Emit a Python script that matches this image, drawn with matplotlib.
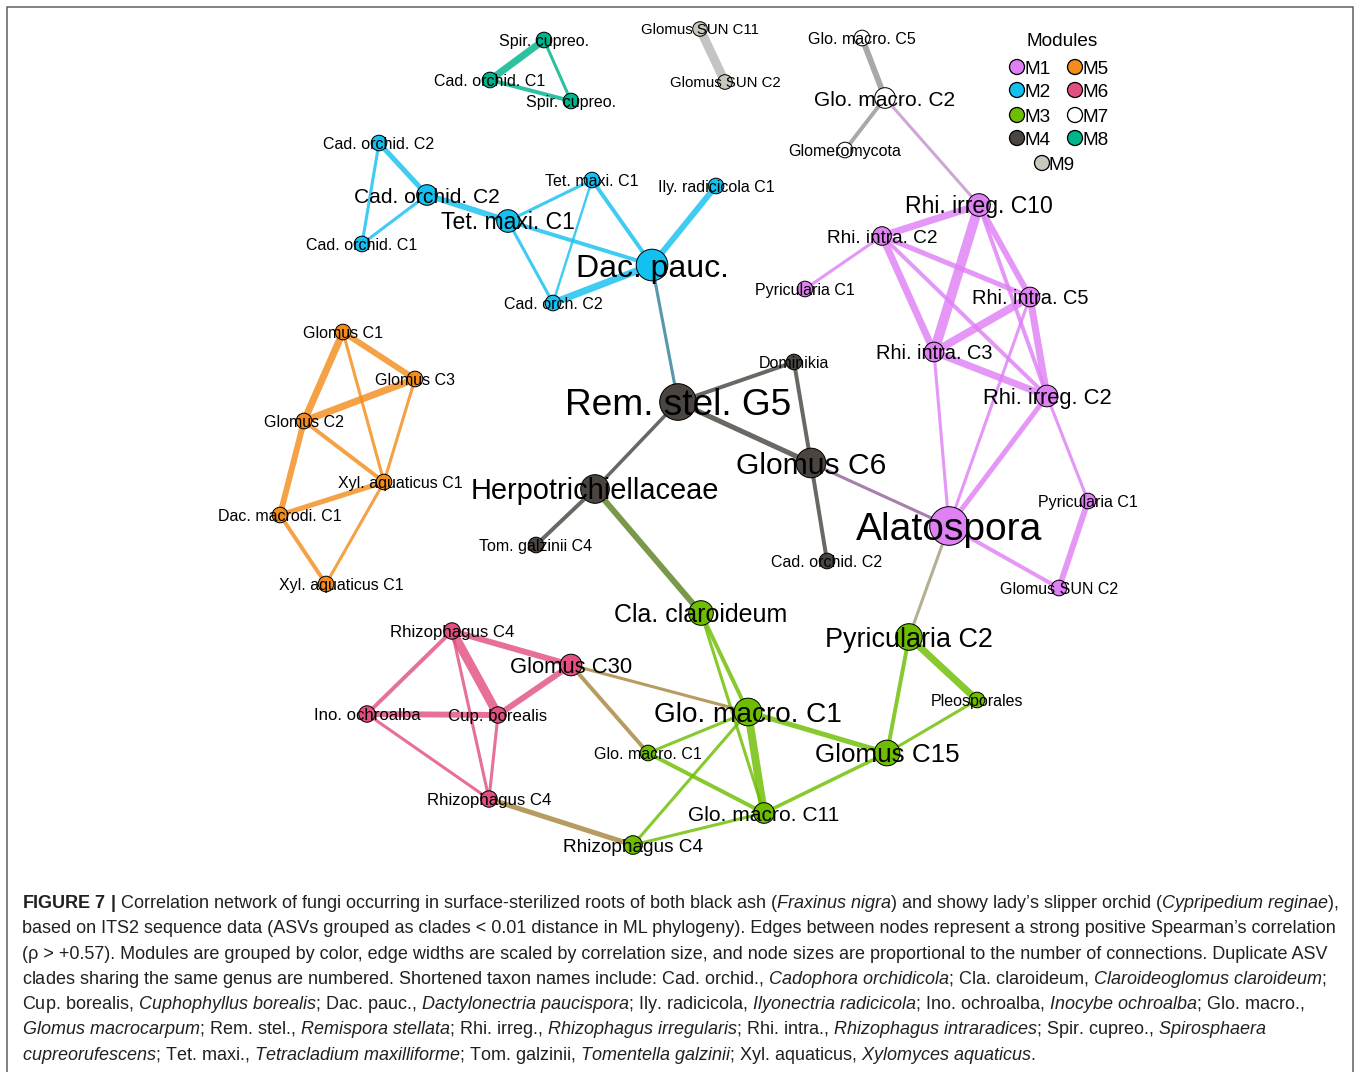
import matplotlib
matplotlib.use("Agg")
import matplotlib.pyplot as plt
from matplotlib.patches import Circle
from matplotlib.colors import to_rgb

W, H, DPI = 1357, 1072, 100
PT = 72.0 / DPI  # points per pixel

# ---------------- data ----------------
modules = ["M1", "M2", "M3", "M4", "M5", "M6", "M7", "M8", "M9"]
module_fill = ["#df80f5", "#14c0f0", "#6dbe00", "#4a4541", "#f38c1c",
               "#e2507f", "#ffffff", "#00b48c", "#c9c6bb"]

node_id = [
    "m8_spir1", "m8_cad1", "m8_spir2",
    "m9_sun11", "m9_sun2",
    "m7_glo5", "m7_glo2", "m7_glom",
    "m2_cad2a", "m2_cad2b", "m2_cad1", "m2_tet1a", "m2_tet1b", "m2_ily", "m2_dac", "m2_cadorch",
    "m5_glo1", "m5_glo3", "m5_glo2", "m5_xyl1a", "m5_dac", "m5_xyl1b",
    "m4_rem", "m4_dom", "m4_glo6", "m4_herp", "m4_tom", "m4_cad2",
    "m1_irr10", "m1_int2", "m1_pyr1a", "m1_int5", "m1_int3", "m1_irr2", "m1_pyr1b", "m1_alat", "m1_sun2",
    "m3_cla", "m3_glo1a", "m3_glo1b", "m3_pyr2", "m3_pleo", "m3_glo15", "m3_glo11", "m3_rhiz4",
    "m6_rhiz4a", "m6_glo30", "m6_ino", "m6_cup", "m6_rhiz4b",
]
node_label = [
    "Spir. cupreo.", "Cad. orchid. C1", "Spir. cupreo.",
    "Glomus SUN C11", "Glomus SUN C2",
    "Glo. macro. C5", "Glo. macro. C2", "Glomeromycota",
    "Cad. orchid. C2", "Cad. orchid. C2", "Cad. orchid. C1", "Tet. maxi. C1", "Tet. maxi. C1",
    "Ily. radicicola C1", "Dac. pauc.", "Cad. orch. C2",
    "Glomus C1", "Glomus C3", "Glomus C2", "Xyl. aquaticus C1", "Dac. macrodi. C1", "Xyl. aquaticus C1",
    "Rem. stel. G5", "Dominikia", "Glomus C6", "Herpotrichiellaceae", "Tom. galzinii C4", "Cad. orchid. C2",
    "Rhi. irreg. C10", "Rhi. intra. C2", "Pyricularia C1", "Rhi. intra. C5", "Rhi. intra. C3",
    "Rhi. irreg. C2", "Pyricularia C1", "Alatospora", "Glomus SUN C2",
    "Cla. claroideum", "Glo. macro. C1", "Glo. macro. C1", "Pyricularia C2", "Pleosporales",
    "Glomus C15", "Glo. macro. C11", "Rhizophagus C4",
    "Rhizophagus C4", "Glomus C30", "Ino. ochroalba", "Cup. borealis", "Rhizophagus C4",
]
node_module = [
    "M8", "M8", "M8",
    "M9", "M9",
    "M7", "M7", "M7",
    "M2", "M2", "M2", "M2", "M2", "M2", "M2", "M2",
    "M5", "M5", "M5", "M5", "M5", "M5",
    "M4", "M4", "M4", "M4", "M4", "M4",
    "M1", "M1", "M1", "M1", "M1", "M1", "M1", "M1", "M1",
    "M3", "M3", "M3", "M3", "M3", "M3", "M3", "M3",
    "M6", "M6", "M6", "M6", "M6",
]
node_size = [
    7, 7, 7,
    6.5, 6.5,
    7, 9.5, 7,
    7, 9.5, 7, 10.5, 7, 7, 15, 7,
    7, 7, 7, 7, 7, 7,
    17.5, 7, 14, 13.5, 7, 7,
    10.5, 8.5, 7, 9, 9, 10, 7, 18.5, 7,
    11.5, 13, 7, 12.5, 7, 12, 9.5, 8.5,
    7.4, 10, 7.4, 7.4, 7.4,
]

edge_src = [
    "m8_spir1", "m8_spir1", "m8_cad1",
    "m9_sun11",
    "m7_glo5", "m7_glo2",
    "m2_cad2a", "m2_cad2a", "m2_cad1", "m2_cad2b", "m2_tet1a", "m2_tet1a", "m2_tet1a",
    "m2_tet1b", "m2_tet1b", "m2_ily", "m2_cadorch", "m2_dac",
    "m5_glo1", "m5_glo1", "m5_glo1", "m5_glo3", "m5_glo3", "m5_glo2", "m5_glo2",
    "m5_dac", "m5_dac", "m5_xyl1a",
    "m4_rem", "m4_rem", "m4_rem", "m4_dom", "m4_glo6", "m4_herp", "m4_herp", "m4_glo6",
    "m1_irr10", "m1_irr10", "m1_irr10", "m1_irr10", "m1_int2", "m1_int2", "m1_int2", "m1_int2",
    "m1_int3", "m1_int3", "m1_int5", "m1_int3", "m1_int5", "m1_irr2", "m1_irr2", "m1_pyr1b",
    "m1_alat", "m7_glo2", "m1_alat",
    "m3_cla", "m3_cla", "m3_glo1a", "m3_glo1a", "m3_glo1a", "m3_glo1a", "m3_glo1b",
    "m3_glo11", "m3_glo11", "m3_pyr2", "m3_pyr2", "m3_pleo",
    "m6_rhiz4a", "m6_rhiz4a", "m6_rhiz4a", "m6_rhiz4a", "m6_ino", "m6_ino", "m6_cup", "m6_cup",
    "m6_glo30", "m6_glo30", "m6_rhiz4b",
]
edge_dst = [
    "m8_cad1", "m8_spir2", "m8_spir2",
    "m9_sun2",
    "m7_glo2", "m7_glom",
    "m2_cad2b", "m2_cad1", "m2_cad2b", "m2_tet1a", "m2_tet1b", "m2_dac", "m2_cadorch",
    "m2_dac", "m2_cadorch", "m2_dac", "m2_dac", "m4_rem",
    "m5_glo3", "m5_glo2", "m5_xyl1a", "m5_glo2", "m5_xyl1a", "m5_xyl1a", "m5_dac",
    "m5_xyl1a", "m5_xyl1b", "m5_xyl1b",
    "m4_dom", "m4_glo6", "m4_herp", "m4_glo6", "m4_cad2", "m4_tom", "m3_cla", "m1_alat",
    "m1_int2", "m1_int3", "m1_int5", "m1_irr2", "m1_int3", "m1_int5", "m1_irr2", "m1_pyr1a",
    "m1_int5", "m1_irr2", "m1_irr2", "m1_alat", "m1_alat", "m1_alat", "m1_pyr1b", "m1_sun2",
    "m1_sun2", "m1_irr10", "m3_pyr2",
    "m3_glo1a", "m3_glo11", "m3_glo11", "m3_glo1b", "m3_rhiz4", "m3_glo15", "m3_glo11",
    "m3_rhiz4", "m3_glo15", "m3_glo15", "m3_pleo", "m3_glo15",
    "m6_glo30", "m6_cup", "m6_ino", "m6_rhiz4b", "m6_cup", "m6_rhiz4b", "m6_glo30", "m6_rhiz4b",
    "m3_glo1a", "m3_glo1b", "m3_rhiz4",
]
edge_rho = [
    0.82, 0.64, 0.68,
    0.91,
    0.77, 0.68,
    0.73, 0.64, 0.64, 0.77, 0.64, 0.68, 0.64,
    0.68, 0.61, 0.77, 0.82, 0.64,
    0.77, 0.82, 0.64, 0.82, 0.64, 0.68, 0.77,
    0.73, 0.68, 0.64,
    0.68, 0.73, 0.66, 0.68, 0.68, 0.68, 0.77, 0.64,
    0.82, 0.95, 0.77, 0.68, 0.82, 0.73, 0.68, 0.64,
    0.86, 0.82, 0.82, 0.64, 0.64, 0.73, 0.64, 0.77,
    0.68, 0.64, 0.64,
    0.68, 0.64, 0.86, 0.64, 0.64, 0.73, 0.68,
    0.64, 0.66, 0.68, 0.82, 0.64,
    0.77, 0.91, 0.68, 0.64, 0.77, 0.64, 0.77, 0.64,
    0.64, 0.68, 0.73,
]

# ---------------- layout (pixel coordinates) ----------------
layout = {
    "m8_spir1": (544, 40), "m8_cad1": (490, 80), "m8_spir2": (571, 101),
    "m9_sun11": (700, 29), "m9_sun2": (725, 82),
    "m7_glo5": (862, 38), "m7_glo2": (885, 98), "m7_glom": (845, 150),
    "m2_cad2a": (379, 143), "m2_cad2b": (427, 195), "m2_cad1": (362, 244),
    "m2_tet1a": (508, 221), "m2_tet1b": (592, 180), "m2_ily": (716, 186),
    "m2_dac": (652, 265), "m2_cadorch": (553, 303),
    "m5_glo1": (343, 332), "m5_glo3": (415, 379), "m5_glo2": (304, 421),
    "m5_xyl1a": (384, 482), "m5_dac": (280, 515), "m5_xyl1b": (326, 584),
    "m4_rem": (678, 402), "m4_dom": (794, 362), "m4_glo6": (811, 463),
    "m4_herp": (595, 489), "m4_tom": (536, 545), "m4_cad2": (827, 561),
    "m1_irr10": (979, 205), "m1_int2": (882, 236), "m1_pyr1a": (805, 289),
    "m1_int5": (1030, 297), "m1_int3": (934, 352), "m1_irr2": (1047, 396),
    "m1_pyr1b": (1088, 501), "m1_alat": (949, 526), "m1_sun2": (1059, 588),
    "m3_cla": (701, 613), "m3_glo1a": (748, 712), "m3_glo1b": (648, 753),
    "m3_pyr2": (909, 637), "m3_pleo": (977, 700), "m3_glo15": (887, 753),
    "m3_glo11": (764, 813), "m3_rhiz4": (633, 845),
    "m6_rhiz4a": (452, 631), "m6_glo30": (571, 665), "m6_ino": (367, 714),
    "m6_cup": (498, 715), "m6_rhiz4b": (489, 799),
}
label_shift = {"m5_xyl1a": 16, "m5_xyl1b": 15}

# ---------------- styling helpers ----------------
FONT = "Liberation Sans"
plt.rcParams["font.family"] = [FONT, "DejaVu Sans"]
plt.rcParams["mathtext.fontset"] = "custom"
plt.rcParams["mathtext.rm"] = FONT
plt.rcParams["mathtext.it"] = FONT + ":italic"
plt.rcParams["mathtext.bf"] = FONT + ":bold"

fill = dict(zip(modules, module_fill))
edge_base = {m: to_rgb(c) for m, c in fill.items()}
edge_base["M7"] = to_rgb("#a9a9a9")
edge_base["M9"] = to_rgb("#c4c4c4")
EDGE_ALPHA = 0.82

mod_of = dict(zip(node_id, node_module))
size_of = dict(zip(node_id, node_size))


def edge_colour(a, b):
    ca, cb = edge_base[mod_of[a]], edge_base[mod_of[b]]
    mix = [(x + y) / 2 for x, y in zip(ca, cb)]
    if mod_of[a] in ("M7", "M9") and mod_of[a] == mod_of[b]:
        return mix, 1.0
    return mix, EDGE_ALPHA


def rho_to_px(r):
    return max(1.5, (r - 0.5) * 22)


fig = plt.figure(figsize=(W / DPI, H / DPI), dpi=DPI)
ax = fig.add_axes([0, 0, 1, 1])
ax.set_xlim(0, W)
ax.set_ylim(H, 0)
ax.axis("off")

# frame around the panel
ax.plot([7, 7, 1353, 1353], [H + 5, 7, 7, H + 5], color="#5c5c5c",
        lw=1.5 * PT, solid_joinstyle="miter", zorder=0)

# edges
for s, d, r in zip(edge_src, edge_dst, edge_rho):
    (x0, y0), (x1, y1) = layout[s], layout[d]
    col, al = edge_colour(s, d)
    ax.plot([x0, x1], [y0, y1], color=col, alpha=al, lw=rho_to_px(r) * PT,
            solid_capstyle="butt", zorder=1)

# nodes
for nid, lab, mod, v in zip(node_id, node_label, node_module, node_size):
    x, y = layout[nid]
    ax.add_patch(Circle((x, y), radius=v + 0.8, facecolor=fill[mod],
                        edgecolor="black", lw=1.0 * PT, zorder=2))

# labels (drawn over the nodes)
for nid, lab, v in zip(node_id, node_label, node_size):
    x, y = layout[nid]
    fpx = 2 * v + 2
    ax.text(x + label_shift.get(nid, 0), y + 0.36 * fpx, lab, fontsize=fpx * PT,
            ha="center", va="baseline", color="black", zorder=3)

# legend
ax.text(1062, 39 + 0.36 * 19, "Modules", fontsize=19 * PT, ha="center",
        va="baseline", color="black")
leg_pos = {"M1": (1017, 67), "M2": (1017, 90), "M3": (1017, 115), "M4": (1017, 138),
           "M5": (1075, 67), "M6": (1075, 90), "M7": (1075, 115), "M8": (1075, 138),
           "M9": (1042, 163)}
for m in modules:
    x, y = leg_pos[m]
    ax.add_patch(Circle((x, y), radius=7.5, facecolor=fill[m], edgecolor="black",
                        lw=1.3 * PT, zorder=2))
    ax.text(x + 7, y + 0.36 * 19, m, fontsize=19 * PT, ha="left", va="baseline",
            color="black")


# caption
def it(s):
    return r"$\mathit{" + s.replace(" ", r"\ ") + "}$"


caption_lines = [
    r"$\mathbf{FIGURE\ 7\ |}$ Correlation network of fungi occurring in surface-sterilized roots of both black ash ("
    + it("Fraxinus nigra") + ") and showy lady’s slipper orchid (" + it("Cypripedium reginae") + "),",
    "based on ITS2 sequence data (ASVs grouped as clades < 0.01 distance in ML phylogeny). "
    "Edges between nodes represent a strong positive Spearman’s correlation",
    "(ρ > +0.57). Modules are grouped by color, edge widths are scaled by correlation size, "
    "and node sizes are proportional to the number of connections. Duplicate ASV",
    "clades sharing the same genus are numbered. Shortened taxon names include: Cad. orchid., "
    + it("Cadophora orchidicola") + "; Cla. claroideum, " + it("Claroideoglomus claroideum") + ";",
    "Cup. borealis, " + it("Cuphophyllus borealis") + "; Dac. pauc., " + it("Dactylonectria paucispora")
    + "; Ily. radicicola, " + it("Ilyonectria radicicola") + "; Ino. ochroalba, "
    + it("Inocybe ochroalba") + "; Glo. macro.,",
    it("Glomus macrocarpum") + "; Rem. stel., " + it("Remispora stellata") + "; Rhi. irreg., "
    + it("Rhizophagus irregularis") + "; Rhi. intra., " + it("Rhizophagus intraradices")
    + "; Spir. cupreo., " + it("Spirosphaera"),
    it("cupreorufescens") + "; Tet. maxi., " + it("Tetracladium maxilliforme") + "; Tom. galzinii, "
    + it("Tomentella galzinii") + "; Xyl. aquaticus, " + it("Xylomyces aquaticus") + ".",
]
baselines = [908, 933.3, 958.6, 983.9, 1009.2, 1034.5, 1059.8]

cap_fs = 17.0 * PT
texts = [ax.text(22, yb, s, fontsize=cap_fs, ha="left", va="baseline", color="#231f20")
         for s, yb in zip(caption_lines, baselines)]
renderer = fig.canvas.get_renderer()
w0 = texts[0].get_window_extent(renderer).width
scale = (1338 - 22) / w0
for t in texts:
    t.set_fontsize(cap_fs * scale)

fig.savefig("out.png", dpi=DPI)
